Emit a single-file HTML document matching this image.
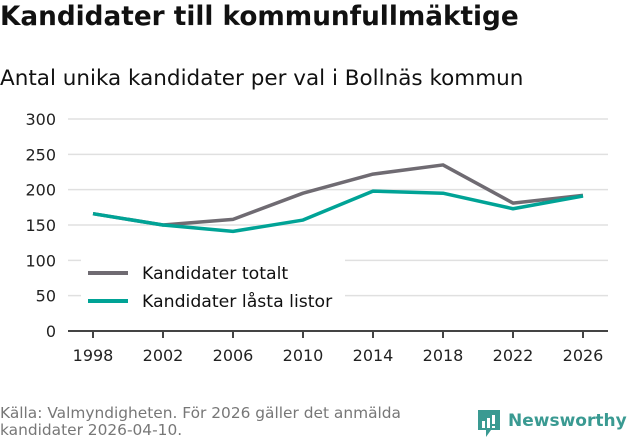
<!DOCTYPE html>
<html><head><meta charset="utf-8"><style>
body{margin:0;width:631px;height:439px;background:#fff;font-family:"DejaVu Sans","Liberation Sans",sans-serif;overflow:hidden;position:relative}
.t{position:absolute;left:0;top:2px;font-size:26.3px;font-weight:bold;color:#111}
.s{position:absolute;left:0;top:66px;font-size:21.5px;color:#111}
.src{position:absolute;left:0;top:405px;font-size:15.4px;color:#777;line-height:17px}
svg{position:absolute;left:0;top:0}
</style></head><body>
<div class="t">Kandidater till kommunfullmäktige</div>
<div class="s">Antal unika kandidater per val i Bollnäs kommun</div>
<svg id="c" width="631" height="439"></svg>
<div class="src">Källa: Valmyndigheten. För 2026 gäller det anmälda<br>kandidater 2026-04-10.</div>
<div style="position:absolute;left:476px;top:409px;">
<svg width="26" height="30" style="position:static"><path d="M2 1h22v20h-9l-5 7v-7H2z" fill="#3a9a92"/><rect x="6" y="12" width="3" height="7" fill="#fff"/><rect x="11" y="9" width="3" height="10" fill="#fff"/><rect x="16" y="6" width="3" height="9" fill="#fff"/><rect x="16" y="17" width="3" height="2" fill="#fff"/></svg>
<span style="position:absolute;left:32px;top:2px;font-size:17px;color:#3a9a92;font-weight:bold">Newsworthy</span></div>
<script>
const years=[1998,2002,2006,2010,2014,2018,2022,2026];
const totalt=[166,150,158,195,222,235,181,192];
const lasta=[166,150,141,157,198,195,173,191];
const yTicks=[0,50,100,150,200,250,300];
const svg=document.getElementById('c');const NS='http://www.w3.org/2000/svg';
const x=v=>93+(v-1998)*17.5;const y=v=>331-v*0.7067;
function mk(t,a){const e=document.createElementNS(NS,t);for(const k in a)e.setAttribute(k,a[k]);svg.appendChild(e);return e;}
yTicks.forEach(v=>{const g=mk('line',{x1:68,x2:608,y1:y(v),y2:y(v),stroke:'#e0e0e0','stroke-width':1.5});

const t=mk('text',{x:56,y:y(v)+6,'text-anchor':'end','font-size':16,fill:'#222'});t.textContent=v;
});
const ax=mk('line',{x1:68,x2:608,y1:331,y2:331,stroke:'#444','stroke-width':2});

years.forEach(v=>{const k=mk('line',{x1:x(v),x2:x(v),y1:331,y2:338,stroke:'#444','stroke-width':2});

const t=mk('text',{x:x(v),y:361,'text-anchor':'middle','font-size':16,fill:'#222'});t.textContent=v;
});
function line(d,c,n){const p=mk('polyline',{points:d.map((v,i)=>x(years[i])+','+y(v)).join(' '),fill:'none',stroke:c,'stroke-width':3.5,'stroke-linejoin':'round'});
}
line(totalt,'#6f6b72','series-totalt');line(lasta,'#00a396','series-lasta-listor');
const bg=mk('rect',{x:81,y:257,width:264,height:56,fill:'#fff'});

[['Kandidater totalt','#6f6b72',273],['Kandidater låsta listor','#00a396',301]].forEach(([l,c,yy])=>{
const s=mk('line',{x1:88,x2:128,y1:yy,y2:yy,stroke:c,'stroke-width':4});
const t=mk('text',{x:142,y:yy+6,'font-size':17.3,fill:'#111'});t.textContent=l;});
</script>
</body></html>
